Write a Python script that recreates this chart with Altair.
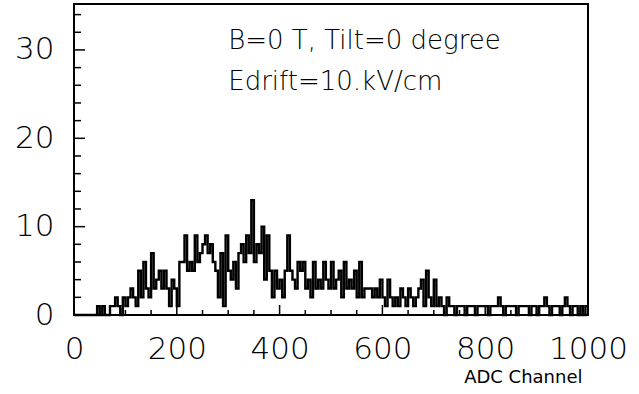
import altair as alt
import pandas as pd

bin_width = 5
counts = [
    0, 0, 0, 0, 0, 0, 0, 0, 0, 1,
    0, 1, 0, 0, 1, 1, 2, 1, 0, 2,
    1, 2, 3, 2, 1, 5, 2, 6, 3, 2,
    7, 3, 4, 5, 3, 5, 3, 1, 4, 3,
    1, 6, 6, 9, 5, 6, 5, 9, 6, 7,
    8, 9, 7, 8, 6, 5, 2, 7, 1, 9,
    5, 4, 6, 3, 7, 8, 6, 9, 7, 13,
    6, 8, 7, 10, 4, 9, 5, 2, 5, 3,
    4, 2, 5, 9, 5, 4, 3, 6, 5, 6,
    3, 4, 2, 6, 3, 4, 3, 6, 4, 3,
    6, 3, 4, 5, 2, 6, 3, 4, 3, 5,
    2, 6, 2, 3, 3, 3, 2, 3, 2, 4,
    2, 1, 4, 2, 1, 2, 1, 3, 2, 1,
    3, 2, 1, 2, 3, 4, 1, 5, 2, 1,
    4, 1, 2, 1, 0, 2, 1, 1, 0, 1,
    1, 1, 0, 1, 1, 1, 0, 1, 1, 1,
    1, 0, 1, 1, 1, 2, 1, 0, 1, 1,
    1, 1, 0, 1, 1, 1, 1, 0, 1, 1,
    0, 1, 1, 2, 1, 0, 1, 1, 1, 0,
    1, 2, 1, 0, 1, 1, 0, 1, 0, 1,
]
edges = [i * bin_width for i in range(len(counts))] + [1000]

x_label_values = [0, 200, 400, 600, 800, 1000]
x_minor_ticks = list(range(0, 1001, 50))
y_label_values = [0, 10, 20, 30]
y_minor_ticks = list(range(0, 35, 2))

notes_text = ["B=0 T, Tilt=0 degree", "Edrift=10.kV/cm"]
notes_x = [300, 300]
notes_y = [30.1, 25.5]

FONT = "DejaVu Sans"
WEIGHT = 200

hist = pd.DataFrame({"adc": edges, "count": counts + [counts[-1]]})
xs = alt.Scale(domain=[0, 1000], nice=False, zero=False)
ys = alt.Scale(domain=[0, 35.2], nice=False)

line = alt.Chart(hist).mark_line(
    interpolate="step-after", color="black", strokeWidth=2.4
).encode(
    x=alt.X("adc:Q", scale=xs, axis=alt.Axis(
        values=x_label_values, format="d", ticks=False, domain=False, grid=False,
        labelFont=FONT, labelFontSize=31, labelFontWeight=WEIGHT,
        labelColor="black", labelPadding=19,
        labelFlush=False, labelOverlap=False,
        title="ADC Channel", titleFont=FONT, titleFontSize=18,
        titleFontWeight="normal", titleColor="black", titleAlign="right",
        titleAnchor="end", titleX=508, titleY=67, titleBaseline="alphabetic")),
    y=alt.Y("count:Q", scale=ys, axis=alt.Axis(
        values=y_label_values, format="d", ticks=False, domain=False, grid=False,
        labelFont=FONT, labelFontSize=31, labelFontWeight=WEIGHT,
        labelColor="black", labelPadding=20,
        title=None)),
)

xminor = pd.DataFrame({"adc": x_minor_ticks,
                       "major": [v in x_label_values for v in x_minor_ticks]})
x_ticks_minor = alt.Chart(xminor).transform_filter("!datum.major").mark_rule(
    color="black", strokeWidth=1.5).encode(
    x=alt.X("adc:Q", scale=xs), y=alt.value(311), y2=alt.value(306))
x_ticks_major = alt.Chart(xminor).transform_filter("datum.major").mark_rule(
    color="black", strokeWidth=1.5).encode(
    x=alt.X("adc:Q", scale=xs), y=alt.value(311), y2=alt.value(301))

yminor = pd.DataFrame({"count": y_minor_ticks,
                       "major": [v in y_label_values for v in y_minor_ticks]})
y_ticks_minor = alt.Chart(yminor).transform_filter("!datum.major").mark_rule(
    color="black", strokeWidth=1.5).encode(
    y=alt.Y("count:Q", scale=ys), x=alt.value(0), x2=alt.value(7))
y_ticks_major = alt.Chart(yminor).transform_filter("datum.major").mark_rule(
    color="black", strokeWidth=1.5).encode(
    y=alt.Y("count:Q", scale=ys), x=alt.value(0), x2=alt.value(11))

notes = pd.DataFrame({"adc": notes_x, "count": notes_y, "text": notes_text})
note_marks = alt.Chart(notes).mark_text(
    align="left", baseline="alphabetic", font=FONT, fontSize=26,
    fontWeight=WEIGHT, color="black"
).encode(x=alt.X("adc:Q", scale=xs), y=alt.Y("count:Q", scale=ys), text="text:N")

chart = alt.layer(
    line, x_ticks_minor, x_ticks_major, y_ticks_minor, y_ticks_major, note_marks
).properties(
    width=514, height=311,
    autosize=alt.AutoSizeParams(type="none"),
    padding={"left": 74, "top": 4, "right": 51, "bottom": 79},
    background="white",
).configure_view(stroke="black", strokeWidth=2)

chart.save("out.html", embed_options={"renderer": "svg", "actions": False})
